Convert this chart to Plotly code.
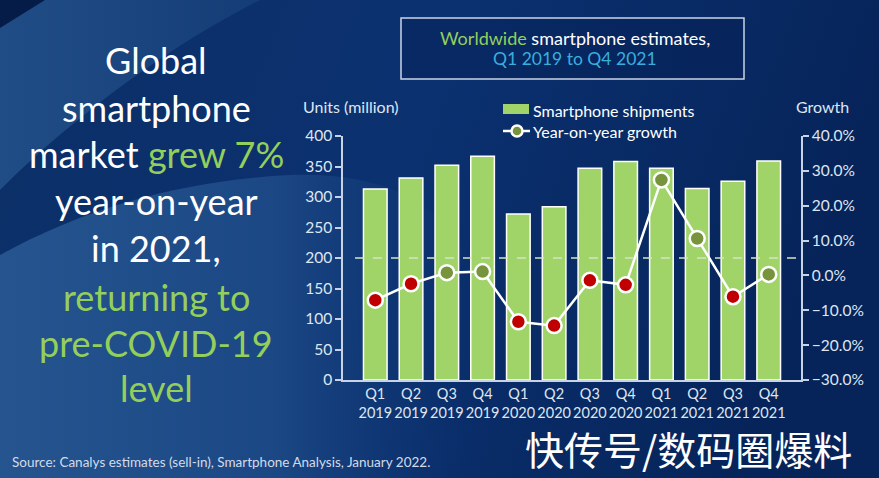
import base64
import plotly.graph_objects as go

# ---------------- data ----------------
quarters = ["Q1<br>2019", "Q2<br>2019", "Q3<br>2019", "Q4<br>2019",
            "Q1<br>2020", "Q2<br>2020", "Q3<br>2020", "Q4<br>2020",
            "Q1<br>2021", "Q2<br>2021", "Q3<br>2021", "Q4<br>2021"]
shipments = [313, 331, 352, 367, 272, 284, 347, 358, 347, 314, 326, 359]
growth = [-0.071, -0.024, 0.008, 0.011, -0.133, -0.144,
          -0.014, -0.027, 0.274, 0.106, -0.061, 0.003]
left_ticks = [0, 50, 100, 150, 200, 250, 300, 350, 400]
right_ticks = [-0.3, -0.2, -0.1, 0.0, 0.1, 0.2, 0.3, 0.4]
reference_level = 200

headline = ["Global", "smartphone",
            "market <span style='color:#94cf5c'>grew 7%</span>",
            "year-on-year", "in 2021,",
            "<span style='color:#94cf5c'>returning to</span>",
            "<span style='color:#94cf5c'>pre-COVID-19</span>",
            "<span style='color:#94cf5c'>level</span>"]

# ---------------- geometry ----------------
W, H = 879, 478
L, R, T, B = 343, 801, 136, 380
PW, PH = R - L, B - T


def px(x):
    return (x - L) / PW


def py(y):
    return (B - y) / PH


FONT = "Lato"
GREEN = "#a0d468"
LIGHT = "#dfe6f2"

fig = go.Figure()
fig.add_trace(go.Bar(
    x=quarters, y=shipments, name="Smartphone shipments",
    marker=dict(color=GREEN, line=dict(color="white", width=1.5)),
    yaxis="y", showlegend=False))
fig.add_trace(go.Scatter(
    x=quarters, y=growth, name="Year-on-year growth", yaxis="y2",
    mode="lines+markers",
    line=dict(color="white", width=2.5),
    marker=dict(size=15, color=["#c00000" if g < 0 else "#77933c" for g in growth],
                line=dict(color="white", width=2.5)),
    showlegend=False))

# background as svg image
svg = f'''<svg xmlns="http://www.w3.org/2000/svg" width="{W}" height="{H}" viewBox="0 0 {W} {H}">
<defs>
<linearGradient id="g" x1="0" y1="0" x2="1" y2="0.2">
<stop offset="0" stop-color="#0c2f66"/><stop offset="0.5" stop-color="#0b3170"/><stop offset="1" stop-color="#06245a"/>
</linearGradient>
<linearGradient id="lt" x1="0" y1="0" x2="1" y2="0">
<stop offset="0" stop-color="#24528c"/><stop offset="1" stop-color="#163f78"/>
</linearGradient>
<linearGradient id="lb" x1="0" y1="0" x2="1" y2="0">
<stop offset="0" stop-color="#25548f"/><stop offset="0.55" stop-color="#1b4884"/><stop offset="1" stop-color="#0b3170" stop-opacity="0"/>
</linearGradient>
</defs>
<rect width="{W}" height="{H}" fill="url(#g)"/>
<path d="M0,0 L260,0 C180,40 80,110 0,190 Z" fill="url(#lt)" opacity="0.85"/>
<path d="M0,0 L45,0 L0,28 Z" fill="#061c48"/>
<path d="M0,255 C90,205 190,180 290,175 C380,172 440,200 470,260 L500,478 L0,478 Z" fill="url(#lb)"/>
</svg>'''
src = "data:image/svg+xml;base64," + base64.b64encode(svg.encode()).decode()
images = [dict(source=src, xref="paper", yref="paper", x=px(0), y=py(0),
               sizex=W / PW, sizey=H / PH, xanchor="left", yanchor="top",
               sizing="stretch", layer="below")]

shapes = []
annotations = []


def note(x, y, text, size, color, anchor="center", family=FONT):
    annotations.append(dict(xref="paper", yref="paper", x=px(x), y=py(y),
                            xanchor=anchor, yanchor="middle", text=text,
                            showarrow=False,
                            font=dict(family=family, size=size, color=color)))


# dashed reference line
shapes.append(dict(type="line", xref="paper", yref="y", x0=px(355), x1=px(797),
                   y0=reference_level, y1=reference_level,
                   line=dict(color="#d6e2c4", width=1.5, dash="dash"), layer="above"))

# title box
shapes.append(dict(type="rect", xref="paper", yref="paper", x0=px(401), x1=px(744),
                   y0=py(18), y1=py(79), line=dict(color="#c9d3e6", width=1.5),
                   fillcolor="rgba(5,30,80,0.35)"))
note(575, 38, "<span style='color:#94cf5c'>Worldwide</span> smartphone estimates,", 18, "white")
note(575, 59, "Q1 2019 to Q4 2021", 17.5, "#3aaedc")

# legend
shapes.append(dict(type="rect", xref="paper", yref="paper", x0=px(503), x1=px(529),
                   y0=py(104), y1=py(114), line=dict(color=GREEN, width=0), fillcolor=GREEN))
shapes.append(dict(type="line", xref="paper", yref="paper", x0=px(503), x1=px(530),
                   y0=py(131), y1=py(131), line=dict(color="white", width=2.5)))
shapes.append(dict(type="circle", xref="paper", yref="paper", x0=px(511.5), x1=px(522.5),
                   y0=py(125.5), y1=py(136.5), line=dict(color="white", width=2.5),
                   fillcolor="#77933c"))
note(531, 110, "Smartphone shipments", 16, "white", "left")
note(531, 131, "Year-on-year growth", 16, "white", "left")

# axis titles
note(301, 107, "Units (million)", 16, LIGHT, "left")
note(851, 107, "Growth", 16, LIGHT, "right")

# headline text
ys = [60, 108, 154, 201, 248, 297, 343, 388]
for t, yy in zip(headline, ys):
    note(156, yy, t, 36, "white")

# source
note(10, 462, "Source: Canalys estimates (sell-in), Smartphone Analysis, January 2022.",
     13.5, "#d3dbea", "left")
# watermark
note(688, 448, "快传号/数码圈爆料", 39, "white", family="Noto Sans CJK SC")

axis_common = dict(showgrid=False, zeroline=False, showline=True, linecolor="#c9d3e6",
                   linewidth=1.5, ticks="outside", ticklen=6, tickcolor="#c9d3e6",
                   tickwidth=1.5, tickfont=dict(family=FONT, size=15.5, color=LIGHT))

fig.update_layout(
    width=W, height=H, margin=dict(l=L, r=W - R, t=T, b=H - B, autoexpand=False),
    paper_bgcolor="#0b2f68", plot_bgcolor="rgba(0,0,0,0)",
    bargap=0.34, showlegend=False,
    xaxis=dict(showgrid=False, zeroline=False, showline=True, linecolor="#c9d3e6",
               linewidth=1.5, ticks="", tickangle=0, automargin=False,
               tickfont=dict(family=FONT, size=14.5, color=LIGHT)),
    yaxis=dict(range=[0, 400], tickvals=left_ticks, automargin=False, **axis_common),
    yaxis2=dict(range=[-0.3, 0.4], tickvals=right_ticks, tickformat=".1%",
                overlaying="y", side="right", automargin=False, **axis_common),
    images=images, shapes=shapes, annotations=annotations,
)

fig.write_html("out.html", config={"displayModeBar": False},
               post_script="document.body.style.margin='0';")
